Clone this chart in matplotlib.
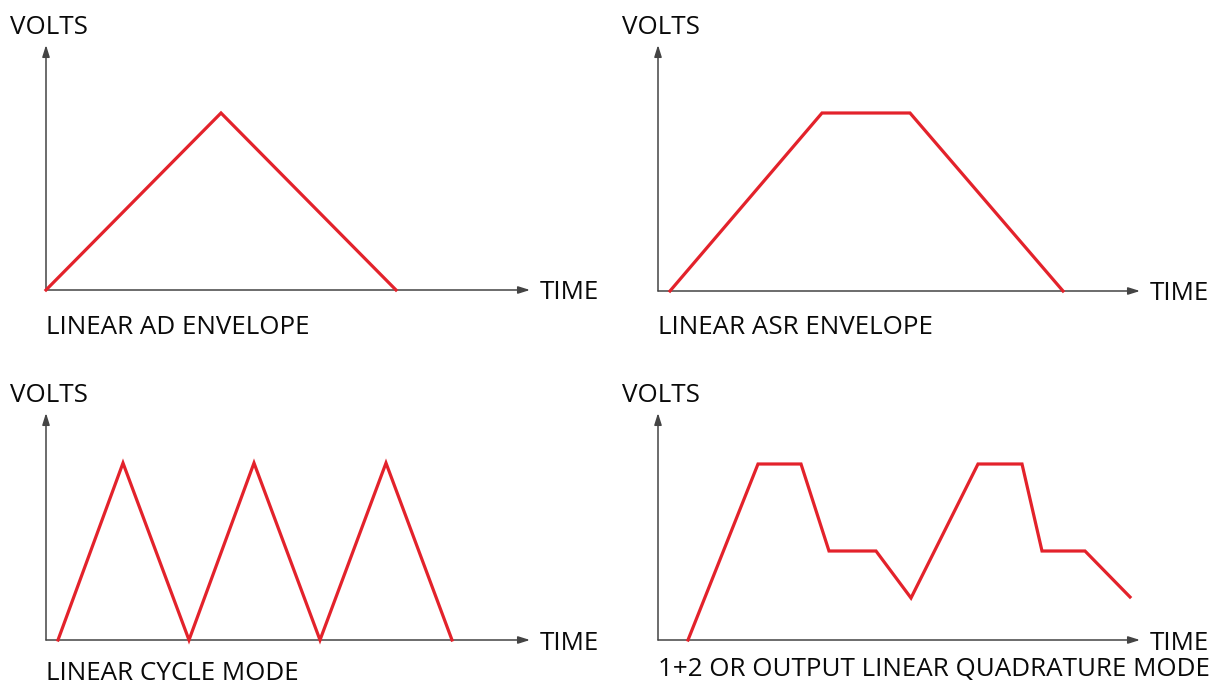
import matplotlib
matplotlib.use('Agg')
import matplotlib.pyplot as plt

# 数据: 时间/电压 (读自原图, 单位近似像素)
ad_time = [0, 175, 350]
ad_volts = [0, 177, 0]

asr_time = [12, 164, 252, 405]
asr_volts = [0, 178, 178, 0]

cycle_time = [12, 77, 143, 208, 274, 340, 406]
cycle_volts = [0, 177, 0, 177, 0, 177, 0]

quad_time = [30, 100, 143, 171, 218, 253, 320, 364, 384, 427, 472]
quad_volts = [0, 176, 176, 89, 89, 42, 176, 176, 89, 89, 43]

titles = ['LINEAR AD ENVELOPE', 'LINEAR ASR ENVELOPE',
          'LINEAR CYCLE MODE', '1+2 OR OUTPUT LINEAR QUADRATURE MODE']

W, H = 1218, 686
RED = '#e3222b'
AXC = '#444444'
TXT = '#0a0a0a'
FS = 18.7
plt.rcParams['font.family'] = ['Open Sans', 'DejaVu Sans']

fig = plt.figure(figsize=(W / 100, H / 100), dpi=100)

# (原点x, 原点y, x轴长, y轴长, 标题y偏移, 数据)
panels = [
    (46, 290, 484, 245, -38, ad_time, ad_volts),
    (658, 291, 482, 246, -37, asr_time, asr_volts),
    (46, 640, 484, 227, -34, cycle_time, cycle_volts),
    (658, 640, 482, 227, -30, quad_time, quad_volts),
]

for (ox, oy, xl, yl, ty, t, v), title in zip(panels, titles):
    ax = fig.add_axes([ox / W, (H - oy) / H, xl / W, yl / H])
    ax.set_xlim(0, xl)
    ax.set_ylim(0, yl)
    ax.axis('off')
    # 坐标轴箭头
    arr = dict(arrowstyle='-|>,head_length=0.7,head_width=0.22', color=AXC,
               lw=1.1, shrinkA=0, shrinkB=0)
    ax.annotate('', xy=(xl, 0), xytext=(0, 0), arrowprops=arr, annotation_clip=False)
    ax.annotate('', xy=(0, yl), xytext=(0, 0), arrowprops=arr, annotation_clip=False)
    ax.plot(t, v, color=RED, lw=2.3, solid_joinstyle='miter', clip_on=False, zorder=3)
    ax.text(-36, yl + 17, 'VOLTS', fontsize=FS, ha='left', va='center', color=TXT)
    ax.text(xl + 10, -3, 'TIME', fontsize=FS, ha='left', va='center', color=TXT)
    ax.text(0, ty, title, fontsize=FS, ha='left', va='center', color=TXT)

fig.savefig('out.png', dpi=100)
